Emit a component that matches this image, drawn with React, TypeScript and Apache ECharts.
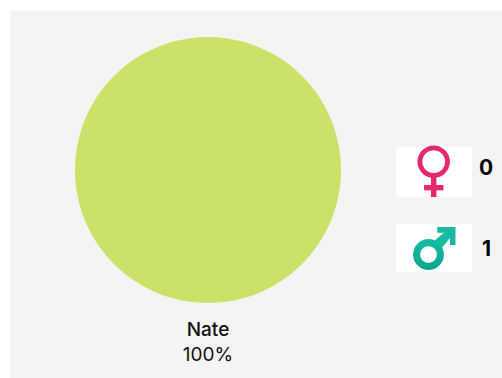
import React, { useEffect, useRef } from "react";
import * as echarts from "echarts";

// Share of people by name
const names = ["Nate"];
const nameCounts = [1];
const sliceColors = ["#cbe268"];

// Head count by gender
const genderCounts = [0, 1];

const FONT = "Inter, 'Noto Sans', sans-serif";
const FEMALE = "#e5296f";
const MALE_TOP = "#17bba2";
const MALE_BOTTOM = "#0da48e";

const maleGradient = new echarts.graphic.LinearGradient(0, 0, 0, 1, [
  { offset: 0, color: MALE_TOP },
  { offset: 1, color: MALE_BOTTOM },
]);

export default function App() {
  const ref = useRef<HTMLDivElement>(null);

  useEffect(() => {
    const chart = echarts.init(ref.current!, undefined, { renderer: "svg" });
    chart.setOption({
      animation: false,
      backgroundColor: "#ffffff",
      color: sliceColors,
      series: [
        {
          type: "pie",
          center: [208, 170],
          radius: [0, 133],
          startAngle: 90,
          silent: true,
          data: names.map((name, i) => ({ name, value: nameCounts[i] })),
          label: {
            show: true,
            position: "outside",
            formatter: "{n|{b}}\n{p|{d}%}",
            color: "#111111",
            fontFamily: FONT,
            rich: {
              n: { fontFamily: FONT, fontSize: 19, fontWeight: 500, lineHeight: 25, color: "#111111" },
              p: { fontFamily: FONT, fontSize: 19, fontWeight: 400, lineHeight: 25, color: "#111111" },
            },
          },
          labelLine: { show: false },
          labelLayout: { x: 208, y: 342, align: "center", verticalAlign: "middle" },
        },
      ],
      graphic: [
        // Panel behind the pie and the gender tiles
        { type: "rect", z: -10, shape: { x: 10, y: 11, width: 492, height: 367 }, style: { fill: "#f4f4f4" } },

        // Female tile
        { type: "rect", z: 1, shape: { x: 396, y: 147, width: 76, height: 50 }, style: { fill: "#ffffff" } },
        { type: "ring", z: 2, shape: { cx: 433.7, cy: 161.7, r: 16.2, r0: 11.4 }, style: { fill: FEMALE } },
        { type: "rect", z: 2, shape: { x: 431, y: 176, width: 5.4, height: 21 }, style: { fill: FEMALE } },
        { type: "rect", z: 2, shape: { x: 424, y: 185, width: 19.4, height: 5.4 }, style: { fill: FEMALE } },
        {
          type: "text", z: 2, x: 486, y: 167,
          style: {
            text: String(genderCounts[0]), fill: "#000000", font: `700 21px ${FONT}`,
            textAlign: "center", textVerticalAlign: "middle",
          },
        },

        // Male tile
        { type: "rect", z: 1, shape: { x: 396, y: 224, width: 76, height: 48 }, style: { fill: "#ffffff" } },
        { type: "ring", z: 2, shape: { cx: 428.5, cy: 254.5, r: 15.5, r0: 8.3 }, style: { fill: maleGradient } },
        {
          type: "polygon", z: 2,
          shape: {
            points: [[437.3, 227], [455.5, 227], [455.5, 245], [450, 245], [450, 238], [441, 249], [434, 241], [444, 232.8], [437.3, 232.8]],
          },
          style: { fill: MALE_TOP },
        },
        {
          type: "text", z: 2, x: 486.5, y: 248,
          style: {
            text: String(genderCounts[1]), fill: "#000000", font: `700 21px ${FONT}`,
            textAlign: "center", textVerticalAlign: "middle",
          },
        },
      ],
    });
    return () => chart.dispose();
  }, []);

  return <div ref={ref} style={{ position: "absolute", left: 0, top: 0, width: 502, height: 378 }} />;
}
